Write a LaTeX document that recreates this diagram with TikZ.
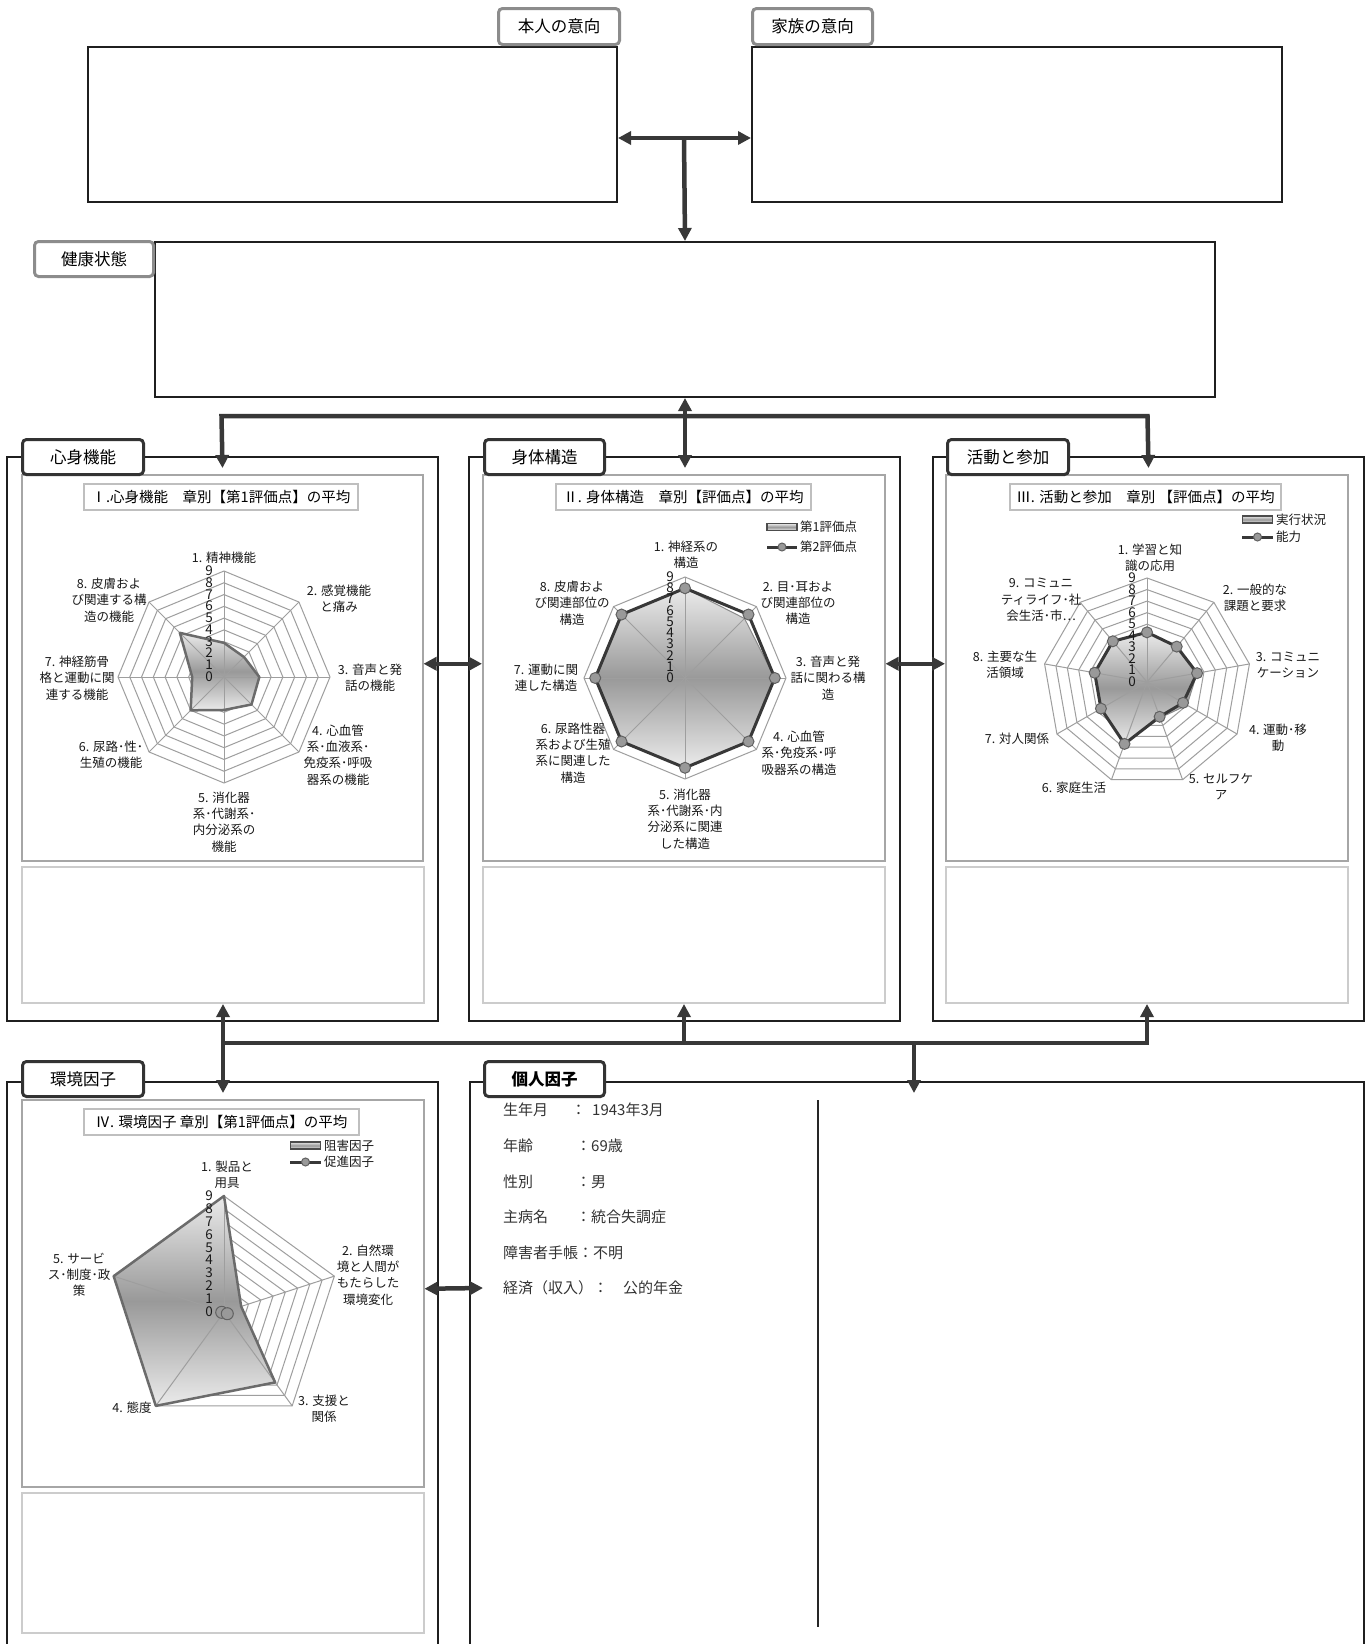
\documentclass[tikz,border=0pt]{standalone}
\usepackage{fontspec}
\setmainfont{Noto Sans CJK JP}
\IfFontExistsTF{ipaexm.ttf}{\newfontfamily\minchofont{ipaexm.ttf}}{%
 \IfFontExistsTF{HaranoAjiMincho-Regular.otf}{\newfontfamily\minchofont{HaranoAjiMincho-Regular.otf}}{%
  \IfFontExistsTF{IPAexMincho}{\newfontfamily\minchofont{IPAexMincho}}{%
   \newfontfamily\minchofont{Noto Sans CJK JP}}}}
\usetikzlibrary{arrows.meta}
\newcommand\rrings[3]{\foreach \k in {1,...,9}{\draw[gridl] (90:{\k*#3}) \foreach \i in {1,...,#1}{ -- ({90-\i*#2}:{\k*#3})} -- cycle;}}
\newcommand\rspokes[3]{\foreach \i in {0,...,#1}{\draw[gridl] (0,0) -- ({90-\i*#2}:{9*#3});}}
\newcommand\rpoly[5]{\path[#1] (90:{#4*#3}) \foreach \v [count=\i] in {#5}{ -- ({90-\i*#2}:{\v*#3})} -- cycle;}
\newcommand\rdots[3]{\foreach \v [count=\i from 0] in {#3}{\path[dotm] ({90-\i*#1}:{\v*#2}) circle (5.5pt);}}
\newcommand\rticks[2]{\foreach \k in {0,...,9}{\node[tick] (tk#2\k) at (-11pt,{\k*#1}) {\k};}}
\begin{document}
\begin{tikzpicture}[x=1pt,y=-1pt,
  mainbox/.style={draw=black!88,line width=2pt,inner sep=0pt,anchor=north west},
  tabtop/.style={draw=black!45,line width=3pt,rounded corners=4pt,fill=white,inner sep=0pt,anchor=north west,font=\fontsize{16.5}{18}\selectfont},
  tabmid/.style={draw=black!80,line width=3pt,rounded corners=4pt,fill=white,inner sep=0pt,anchor=north west,font=\fontsize{16.5}{18}\selectfont},
  chartbox/.style={draw=black!35,line width=1.5pt,inner sep=0pt,anchor=north west},
  lowbox/.style={draw=black!20,line width=2pt,inner sep=0pt,anchor=north west},
  titlebox/.style={draw=black!25,line width=1.5pt,fill=white,inner sep=0pt,minimum height=26pt,font=\fontsize{14.5}{16}\selectfont},
  arr/.style={draw=black!78,line width=4.5pt,>={Triangle[length=13pt,width=13pt]}},
  gridl/.style={draw=black!38,line width=1pt},
  lbl/.style={align=center,inner sep=0pt,font=\fontsize{12.5}{16.3}\selectfont,text=black!90},
  legtxt/.style={anchor=west,inner sep=0pt,font=\fontsize{12.5}{14}\selectfont,text=black!90},
  legsw/.style={draw=black!70,line width=1.5pt,fill=black!22,inner sep=0pt,minimum width=30pt,minimum height=7pt},
  tick/.style={inner sep=0pt,anchor=east,text height=9pt,text depth=0pt,font=\fontsize{13.5}{13.5}\selectfont,text=black!90},
  silver/.style={top color=black!8,bottom color=black!8,middle color=black!40},
  dotm/.style={fill=black!40,draw=black!62,line width=1pt},
  s2line/.style={draw=black!78,line width=3pt,line join=round},
  s1line/.style={draw=black!58,line width=2.5pt,line join=round},
  ptxt/.style={anchor=west,inner sep=0pt,font=\minchofont\fontsize{15}{17}\selectfont,text=black!80}
]
\useasboundingbox (0,0) rectangle (1370,1644);
\fill[white] (0,0) rectangle (1370,1644);

% ---------- top ----------
\node[mainbox,minimum width=529pt,minimum height=155pt] (hon) at (87,46) {};
\node[mainbox,minimum width=530pt,minimum height=155pt] (kazoku) at (751,46) {};
\node[mainbox,minimum width=1060pt,minimum height=155pt] (kenko) at (154,241) {};
\node[tabtop,minimum width=121pt,minimum height=36pt] (tHon) at (497,7) {本人の意向};
\node[tabtop,minimum width=120pt,minimum height=36pt] (tKaz) at (751,7) {家族の意向};
\node[tabtop,minimum width=119pt,minimum height=35pt] (tKen) at (33,240) {健康状態};

\draw[arr,<->] ([yshift=-13.5pt]hon.east) -- ([yshift=-13.5pt]kazoku.west);
\coordinate (jt) at (684,137);
\draw[arr,->] (jt) -- (kenko.north);

% ---------- row 2 ----------
\node[mainbox,minimum width=431pt,minimum height=564pt] (oShin) at (6,456) {};
\node[mainbox,minimum width=431pt,minimum height=564pt] (oTai) at (468,456) {};
\node[mainbox,minimum width=431pt,minimum height=564pt] (oKat) at (932,456) {};
\node[chartbox,minimum width=401pt,minimum height=386pt] (ch1) at (21,474) {};
\node[chartbox,minimum width=402pt,minimum height=386pt] (ch2) at (482,474) {};
\node[chartbox,minimum width=402pt,minimum height=386pt] (ch3) at (945,474) {};
\node[lowbox,minimum width=402pt,minimum height=136pt] (lo1) at (21,866) {};
\node[lowbox,minimum width=402pt,minimum height=136pt] (lo2) at (482,866) {};
\node[lowbox,minimum width=402pt,minimum height=136pt] (lo3) at (945,866) {};
\node[tabmid,minimum width=121pt,minimum height=35pt] (tShin) at (21,438) {心身機能};
\node[tabmid,minimum width=120pt,minimum height=35pt] (tTai) at (483,438) {身体構造};
\node[tabmid,minimum width=121pt,minimum height=35pt] (tKat) at (946,438) {活動と参加};

\coordinate (b2L) at (221.5,416);
\coordinate (b2R) at (1147.5,416);
\coordinate (p1) at ([yshift=-12pt]oShin.north);
\coordinate (p2) at ([yshift=-12pt]oTai.north);
\coordinate (p3) at ([yshift=-12pt]oKat.north);
\draw[arr,<->] (p1) -- (b2L) -- (b2R) -- (p3);
\draw[arr,<->] (kenko.south) -- (kenko.south |- p2);
\draw[arr,<->] ([yshift=4pt]ch1.east) -- ([yshift=4pt]ch2.west);
\draw[arr,<->] ([yshift=4pt]ch2.east) -- ([yshift=4pt]ch3.west);

% ---------- row 3 ----------
\node[mainbox,minimum width=431pt,minimum height=600pt] (oKan) at (6,1081) {};
\node[mainbox,minimum width=894pt,minimum height=600pt] (oKo) at (469,1081) {};
\node[chartbox,minimum width=402pt,minimum height=387pt] (ch4) at (21,1099) {};
\node[lowbox,minimum width=402pt,minimum height=140pt] (lo4) at (21,1492) {};
\node[tabmid,minimum width=121pt,minimum height=35pt] (tKan) at (21,1060) {環境因子};
\node[tabmid,minimum width=120pt,minimum height=35pt] (tKo) at (483,1060) {\bfseries 個人因子};

\coordinate (b3L) at (222,1043);
\coordinate (q4) at ([yshift=-12pt]oKan.north);
\coordinate (b3K) at (914,1043);
\coordinate (q5) at (914,1093);
\coordinate (kp) at (483,1288);
\draw[arr,<->] (lo1.south) -- (lo1.south |- q4);
\draw[arr,->] (b3L) -| (lo3.south);
\draw[arr,->] (lo2.south |- b3L) -- (lo2.south);
\draw[arr,->] (b3K) -- (q5);
\draw[arr,<->] ([yshift=4.5pt]ch4.east) -- (kp);

\draw[black!85,line width=1.2pt] (818,1100) -- (818,1627);

% person factors
\node[ptxt] (pf1) at (503,1110) {\makebox[68pt][l]{生年月}：\hspace{6pt}1943年3月};
\node[ptxt] (pf2) at (503,1146) {\makebox[73pt][l]{年齢}：69歳};
\node[ptxt] (pf3) at (503,1182) {\makebox[73pt][l]{性別}：男};
\node[ptxt] (pf4) at (503,1217) {\makebox[73pt][l]{主病名}：統合失調症};
\node[ptxt] (pf5) at (503,1253) {障害者手帳：不明};
\node[ptxt] (pf6) at (503,1288) {経済（収入）：　公的年金};

% ---------- titles ----------
\node[titlebox,minimum width=274pt] (ti1) at (221,497) {Ⅰ.心身機能　章別【第1評価点】の平均};
\node[titlebox,minimum width=255pt] (ti2) at (683.5,497) {Ⅱ. 身体構造　章別【評価点】の平均};
\node[titlebox,minimum width=271pt] (ti3) at (1145.5,497) {Ⅲ. 活動と参加　章別 【評価点】の平均};
\node[titlebox,minimum width=275pt] (ti4) at (221.5,1122) {Ⅳ. 環境因子 章別【第1評価点】の平均};

% ---------- chart 1 ----------
\begin{scope}[shift={(224,677)}]
\def\ru{11.778pt}
\rrings{7}{45}{\ru}
\rpoly{silver}{45}{\ru}{2.9}{2.4,3.0,3.3,2.8,4.0,2.7,5.3}
\rspokes{7}{45}{\ru}
\rpoly{s1line}{45}{\ru}{2.9}{2.4,3.0,3.3,2.8,4.0,2.7,5.3}
\rticks{\ru}{a}
\end{scope}
\node[lbl] (c1a) at (224,558) {1. 精神機能};
\node[lbl] (c1b) at (339,599) {2. 感覚機能\\と痛み};
\node[lbl] (c1c) at (370,678) {3. 音声と発\\話の機能};
\node[lbl] (c1d) at (338,755) {4. 心血管\\系･血液系･\\免疫系･呼吸\\器系の機能};
\node[lbl] (c1e) at (224,822) {5. 消化器\\系･代謝系･\\内分泌系の\\機能};
\node[lbl] (c1f) at (111,755) {6. 尿路･性･\\生殖の機能};
\node[lbl] (c1g) at (77,678) {7. 神経筋骨\\格と運動に関\\連する機能};
\node[lbl] (c1h) at (109,600) {8. 皮膚およ\\び関連する構\\造の機能};

% ---------- chart 2 ----------
\begin{scope}[shift={(685,678)}]
\def\ru{11.222pt}
\rrings{7}{45}{\ru}
\rpoly{silver,draw=black!45,line width=1pt}{45}{\ru}{8}{7.5,8,8,8,8,8,8}
\rspokes{7}{45}{\ru}
\rpoly{s2line}{45}{\ru}{8}{8,8,8,8,8,8,8}
\rdots{45}{\ru}{8,8,8,8,8,8,8,8}
\rticks{\ru}{b}
\end{scope}
\node[lbl] (c2a) at (686,555) {1. 神経系の\\構造};
\node[lbl] (c2b) at (798,603) {2. 目･耳およ\\び関連部位の\\構造};
\node[lbl] (c2c) at (828,678) {3. 音声と発\\話に関わる構\\造};
\node[lbl] (c2d) at (799,753) {4. 心血管\\系･免疫系･呼\\吸器系の構造};
\node[lbl] (c2e) at (685,819) {5. 消化器\\系･代謝系･内\\分泌系に関連\\した構造};
\node[lbl] (c2f) at (573,753) {6. 尿路性器\\系および生殖\\系に関連した\\構造};
\node[lbl] (c2g) at (546,678) {7. 運動に関\\連した構造};
\node[lbl] (c2h) at (572,603) {8. 皮膚およ\\び関連部位の\\構造};
\node[legsw,silver] (lg2a) at (782,527) {};
\node[legtxt] (lg2at) at (800,527) {第1評価点};
\draw[s2line] (767,547) -- (797,547);
\path[dotm] (782,547) circle (4pt);
\node[legtxt] (lg2bt) at (800,547) {第2評価点};

% ---------- chart 3 ----------
\begin{scope}[shift={(1147,682)}]
\def\ru{11.556pt}
\rrings{8}{40}{\ru}
\rpoly{silver,draw=black!45,line width=1pt}{40}{\ru}{4.3}{4.0,4.4,4.0,3.3,5.7,4.6,4.6,4.6}
\rspokes{8}{40}{\ru}
\rpoly{s2line}{40}{\ru}{4.3}{4.0,4.4,3.6,3.2,5.7,4.6,4.6,4.6}
\rdots{40}{\ru}{4.3,4.0,4.4,3.6,3.2,5.7,4.6,4.6,4.6}
\rticks{\ru}{c}
\end{scope}
\node[lbl] (c3a) at (1150,558) {1. 学習と知\\識の応用};
\node[lbl] (c3b) at (1255,598) {2. 一般的な\\課題と要求};
\node[lbl] (c3c) at (1288,665) {3. コミュニ\\ケーション};
\node[lbl] (c3d) at (1278,738) {4. 運動･移\\動};
\node[lbl] (c3e) at (1221,787) {5. セルフケ\\ア};
\node[lbl] (c3f) at (1074,788) {6. 家庭生活};
\node[lbl] (c3g) at (1017,739) {7. 対人関係};
\node[lbl] (c3h) at (1005,665) {8. 主要な生\\活領域};
\node[lbl] (c3i) at (1041,600) {9. コミュニ\\ティライフ･社\\会生活･市…};
\node[legsw,silver] (lg3a) at (1257.5,519.5) {};
\node[legtxt] (lg3at) at (1276,520) {実行状況};
\draw[s2line] (1242,537) -- (1273,537);
\path[dotm] (1257.5,537) circle (4pt);
\node[legtxt] (lg3bt) at (1276,537) {能力};

% ---------- chart 4 ----------
\begin{scope}[shift={(224,1312)}]
\def\ru{12.89pt}
\rrings{4}{72}{\ru}
\rpoly{silver}{72}{\ru}{9}{1.4,6.75,9,9}
\rspokes{4}{72}{\ru}
\rpoly{s1line}{72}{\ru}{9}{1.4,6.75,9,9}
\path[dotm] (-2.3pt,-0.3pt) circle (6pt);
\path[dotm] (3.3pt,-1.7pt) circle (6pt);
\rticks{\ru}{d}
\end{scope}
\node[lbl] (c4a) at (227,1175) {1. 製品と\\用具};
\node[lbl] (c4b) at (368,1275) {2. 自然環\\境と人間が\\もたらした\\環境変化};
\node[lbl] (c4c) at (324,1409) {3. 支援と\\関係};
\node[lbl] (c4d) at (132,1408) {4. 態度};
\node[lbl] (c4e) at (79,1275) {5. サービ\\ス･制度･政\\策};
\node[legsw,silver] (lg4a) at (305.5,1145.5) {};
\node[legtxt] (lg4at) at (324,1146) {阻害因子};
\draw[s2line] (290,1162) -- (321,1162);
\path[dotm] (305.5,1162) circle (4pt);
\node[legtxt] (lg4bt) at (324,1162) {促進因子};
\end{tikzpicture}
\end{document}
